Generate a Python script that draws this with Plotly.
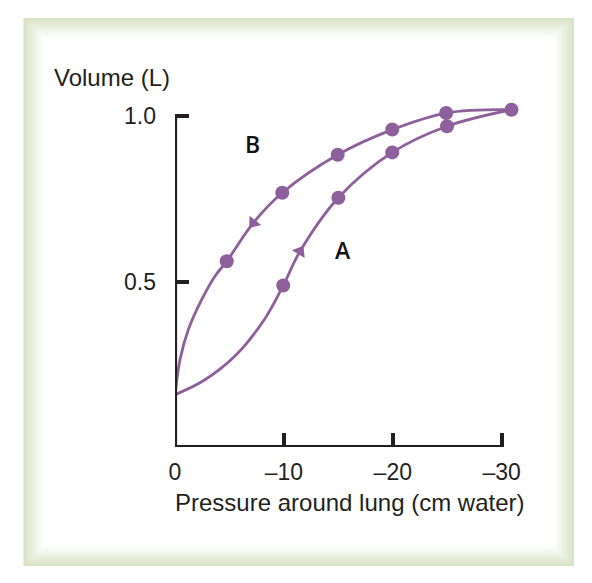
import plotly.graph_objects as go

# ---------------- data ----------------
# Curve B (deflation, upper) - points along the drawn curve
b_curve_x = [0.0, -0.46, -1.22, -2.45, -3.67, -4.75, -7.19, -9.85, -14.94, -19.95, -24.9, -30.9]
b_curve_y = [0.158, 0.264, 0.354, 0.445, 0.516, 0.561, 0.677, 0.768, 0.883, 0.959, 1.009, 1.019]
# Curve A (inflation, lower)
a_curve_x = [0.0, -2.6, -5.6, -8.3, -9.94, -11.48, -15.0, -19.95, -24.98, -30.9]
a_curve_y = [0.158, 0.200, 0.278, 0.390, 0.488, 0.591, 0.753, 0.890, 0.969, 1.019]
# measured dots
b_dot_x = [-4.75, -9.85, -14.94, -19.95, -24.9, -30.9]
b_dot_y = [0.561, 0.768, 0.883, 0.959, 1.009, 1.019]
a_dot_x = [-9.94, -15.0, -19.95, -24.98]
a_dot_y = [0.488, 0.753, 0.890, 0.969]
# direction arrows on the curves
arrow_x = [-7.19, -11.48]
arrow_y = [0.677, 0.591]
arrow_angle = [219, 32]
# curve labels
label_text = ["B", "A"]
label_x = [-7.13, -15.46]
label_y = [0.914, 0.596]
# axes
x_tickvals = [0, -10, -20, -30]
x_ticktext = ["0", "\u201310", "\u201320", "\u201330"]
y_tickvals = [0.5, 1.0]
y_ticktext = ["0.5", "1.0"]
x_axis_end = -30
y_axis_end = 1.0
y_title = "Volume (L)"
x_title = "Pressure around lung (cm water)"

# ---------------- styling / geometry ----------------
W, H = 592, 583
ML, MR, MT, MB = 175, 58, 96, 136
PW, PH = W - ML - MR, H - MT - MB
PX_PER_X = 10.89
PX_PER_Y = 331.0
x_range = [0, -PW / PX_PER_X]
y_range = [0, PH / PX_PER_Y]

PURPLE = "#8d5f9b"
INK = "#231f20"
FONT = "Liberation Sans, Arial, Helvetica, sans-serif"


def px_x(p):
    return (p - ML) / PW


def px_y(p):
    return (H - MB - p) / PH


fig = go.Figure()

for cx, cy in ((b_curve_x, b_curve_y), (a_curve_x, a_curve_y)):
    fig.add_trace(go.Scatter(x=cx, y=cy, mode="lines",
                             line=dict(color=PURPLE, width=2.8, shape="spline", smoothing=1.0),
                             hoverinfo="skip", showlegend=False))
fig.add_trace(go.Scatter(x=b_dot_x + a_dot_x, y=b_dot_y + a_dot_y, mode="markers",
                         marker=dict(color=PURPLE, size=14, line=dict(width=0)),
                         cliponaxis=False, showlegend=False))
fig.add_trace(go.Scatter(x=arrow_x, y=arrow_y, mode="markers",
                         marker=dict(color=PURPLE, size=13, symbol="triangle-up",
                                     angle=arrow_angle, line=dict(width=0)),
                         cliponaxis=False, showlegend=False))

# frame with soft green edge
shapes = []
x0, y0, x1, y1 = 23.5, 18, 574, 566
edge = (214, 226, 196)
N = 14
for i in range(N):
    t = (i / (N - 1)) ** 0.9
    c = tuple(int(round(e + (255 - e) * t)) for e in edge)
    d = i * 1.5
    shapes.append(dict(type="rect", xref="paper", yref="paper",
                       x0=px_x(x0 + d), x1=px_x(x1 - d), y0=px_y(y0 + d), y1=px_y(y1 - d),
                       fillcolor="rgb(%d,%d,%d)" % c, line=dict(width=0), layer="below"))
# axis lines
shapes.append(dict(type="path", xref="x", yref="y",
                   path="M 0,%g L 0,0 L %g,0" % (y_axis_end, x_axis_end),
                   line=dict(color=INK, width=4.2), layer="above"))

annotations = [
    dict(text=y_title, xref="paper", yref="paper", x=px_x(52), y=px_y(78),
         xanchor="left", yanchor="middle", showarrow=False,
         font=dict(family=FONT, size=24, color=INK)),
    dict(text=x_title, xref="paper", yref="paper", x=px_x(173), y=px_y(502),
         xanchor="left", yanchor="middle", showarrow=False,
         font=dict(family=FONT, size=24, color=INK)),
]
for t, lx, ly in zip(label_text, label_x, label_y):
    annotations.append(dict(text=t, x=lx, y=ly, xref="x", yref="y", showarrow=False,
                            xanchor="center", yanchor="middle",
                            font=dict(family="Open Sans, sans-serif", size=23, color="#111111", weight=600)))

fig.update_layout(
    width=W, height=H,
    margin=dict(l=ML, r=MR, t=MT, b=MB, pad=0),
    paper_bgcolor="white", plot_bgcolor="rgba(0,0,0,0)",
    shapes=shapes, annotations=annotations, showlegend=False,
    hovermode=False,
)
fig.update_xaxes(range=x_range, tickmode="array", tickvals=x_tickvals, ticktext=x_ticktext,
                 ticks="inside", ticklen=14, tickwidth=4.2, tickcolor=INK,
                 showline=False, showgrid=False, zeroline=False, automargin=False,
                 ticklabelstandoff=9,
                 tickfont=dict(family=FONT, size=23, color=INK))
fig.update_yaxes(range=y_range, tickmode="array", tickvals=y_tickvals, ticktext=y_ticktext,
                 ticks="inside", ticklen=14, tickwidth=4.2, tickcolor=INK,
                 showline=False, showgrid=False, zeroline=False, automargin=False,
                 ticklabelstandoff=18,
                 tickfont=dict(family=FONT, size=23, color=INK))

fig.write_html("out.html", config={"displayModeBar": False},
               post_script="document.body.style.margin='0px';")
